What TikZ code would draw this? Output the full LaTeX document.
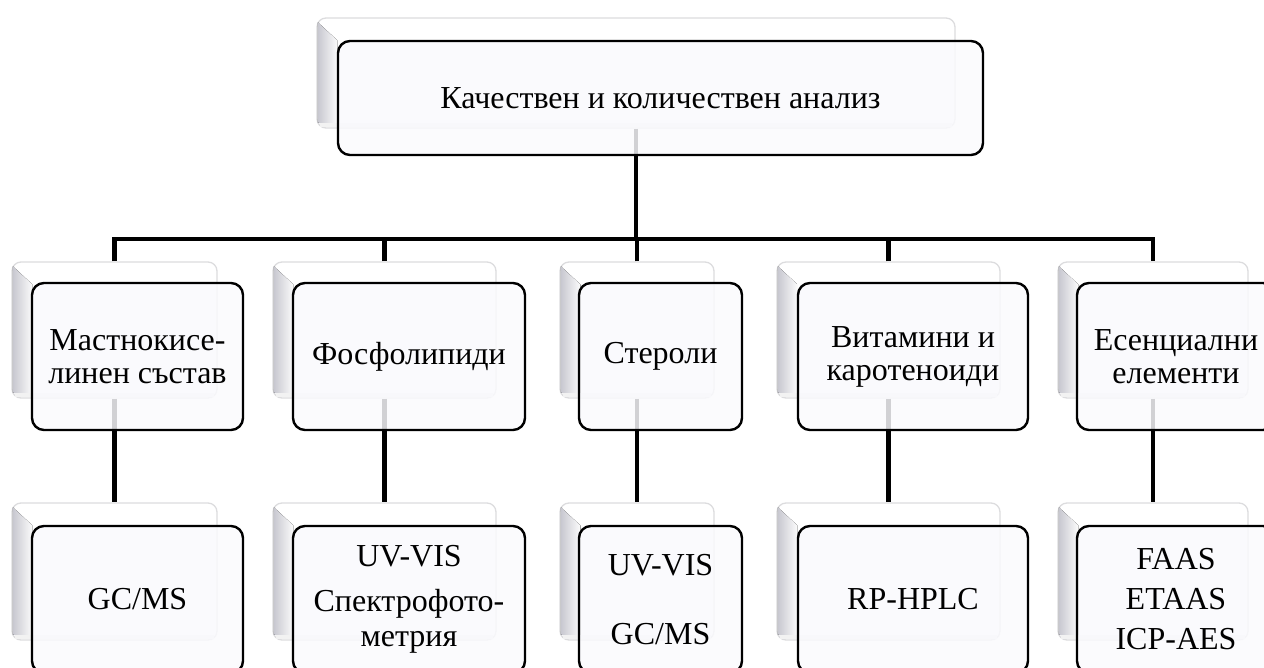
\documentclass[tikz,border=0pt]{standalone}
\usepackage{fontspec}
\setmainfont{Liberation Serif}
\definecolor{mfill}{RGB}{250,250,253}
\definecolor{shline}{RGB}{220,220,222}
\definecolor{bevdark}{RGB}{200,200,208}
\newcommand\mybevel[1]{%
  \fill[left color=bevdark, right color=gray!3]
    ([shift={(1.5pt,-5pt)}]#1.north west) -- ([shift={(21pt,-23pt)}]#1.north west)
    -- ([shift={(21pt,4pt)}]#1.south west) -- ([shift={(1.5pt,6pt)}]#1.south west) -- cycle;
  \fill[gray!10] ([shift={(4pt,1.5pt)}]#1.south west) rectangle ([shift={(-4pt,6pt)}]#1.south east);}
\tikzset{
  shbox/.style={draw=shline, line width=1.3pt, fill=white, rounded corners=9pt, inner sep=0pt},
  mbox/.style={draw=black, line width=2.4pt, fill=mfill, fill opacity=0.84, text opacity=1,
    rounded corners=12pt, align=center, inner sep=0pt, font=\fontsize{32}{33}\selectfont},
  conn/.style={line width=4.6pt, draw=black},
}
\begin{document}
\begin{tikzpicture}[x=1pt,y=-1pt]
\useasboundingbox (0,0) rectangle (1264,668);
\clip (0,0) rectangle (1264,668);
% shadow boxes
\node[shbox, minimum width=638pt, minimum height=110pt] (s0) at (636,73) {};
\node[shbox, minimum width=205pt, minimum height=136pt] (s1) at (114.5,330) {};
\node[shbox, minimum width=223pt, minimum height=136pt] (s2) at (384.5,330) {};
\node[shbox, minimum width=154pt, minimum height=136pt] (s3) at (637,330) {};
\node[shbox, minimum width=223pt, minimum height=136pt] (s4) at (888.5,330) {};
\node[shbox, minimum width=190pt, minimum height=136pt] (s5) at (1153,330) {};
\node[shbox, minimum width=205pt, minimum height=137pt] (t1) at (114.5,571.5) {};
\node[shbox, minimum width=223pt, minimum height=137pt] (t2) at (384.5,571.5) {};
\node[shbox, minimum width=154pt, minimum height=137pt] (t3) at (637,571.5) {};
\node[shbox, minimum width=223pt, minimum height=137pt] (t4) at (888.5,571.5) {};
\node[shbox, minimum width=190pt, minimum height=137pt] (t5) at (1153,571.5) {};
\foreach \n in {s0,s1,s2,s3,s4,s5,t1,t2,t3,t4,t5} {\mybevel{\n}}
% connectors
\coordinate (bar) at (0,239);
\draw[conn] (s0.south) -- (s0.south |- bar);
\draw[conn] (s1.north) -- (s1.north |- bar) -- (s5.north |- bar) -- (s5.north);
\foreach \n in {s2,s3,s4} {\draw[conn] (\n.north) -- (\n.north |- bar);}
\foreach \a/\b in {s1/t1,s2/t2,s3/t3,s4/t4,s5/t5} {\draw[conn] (\a.south) -- (\b.north);}
% main boxes
\node[mbox, minimum width=645pt, minimum height=114pt] (m0) at (660.5,98) {Качествен и количествен анализ};
\node[mbox, minimum width=211pt, minimum height=147pt] (m1) at (137.5,356.5) {Мастнокисе-\\линен състав};
\node[mbox, minimum width=232pt, minimum height=147pt] (m2) at (409,356.5) {Фосфолипиди};
\node[mbox, minimum width=163pt, minimum height=147pt] (m3) at (660.5,356.5) {Стероли};
\node[mbox, minimum width=230pt, minimum height=147pt] (m4) at (913,356.5) {Витамини и\\каротеноиди};
\node[mbox, minimum width=198pt, minimum height=147pt] (m5) at (1176,356.5) {Есенциални\\елементи};
\node[mbox, minimum width=211pt, minimum height=147pt] (n1) at (137.5,599.5) {GC/MS};
\node[mbox, minimum width=232pt, minimum height=147pt] (n2) at (409,599.5) {UV-VIS\\[12pt]Спектрофото-\\[2pt]метрия};
\node[mbox, minimum width=163pt, minimum height=147pt] (n3) at (660.5,599.5) {UV-VIS\\[36pt]GC/MS};
\node[mbox, minimum width=230pt, minimum height=147pt] (n4) at (913,599.5) {RP-HPLC};
\node[mbox, minimum width=198pt, minimum height=147pt] (n5) at (1176,599.5) {FAAS\\[7pt]ETAAS\\[7pt]ICP-AES};
\end{tikzpicture}
\end{document}
